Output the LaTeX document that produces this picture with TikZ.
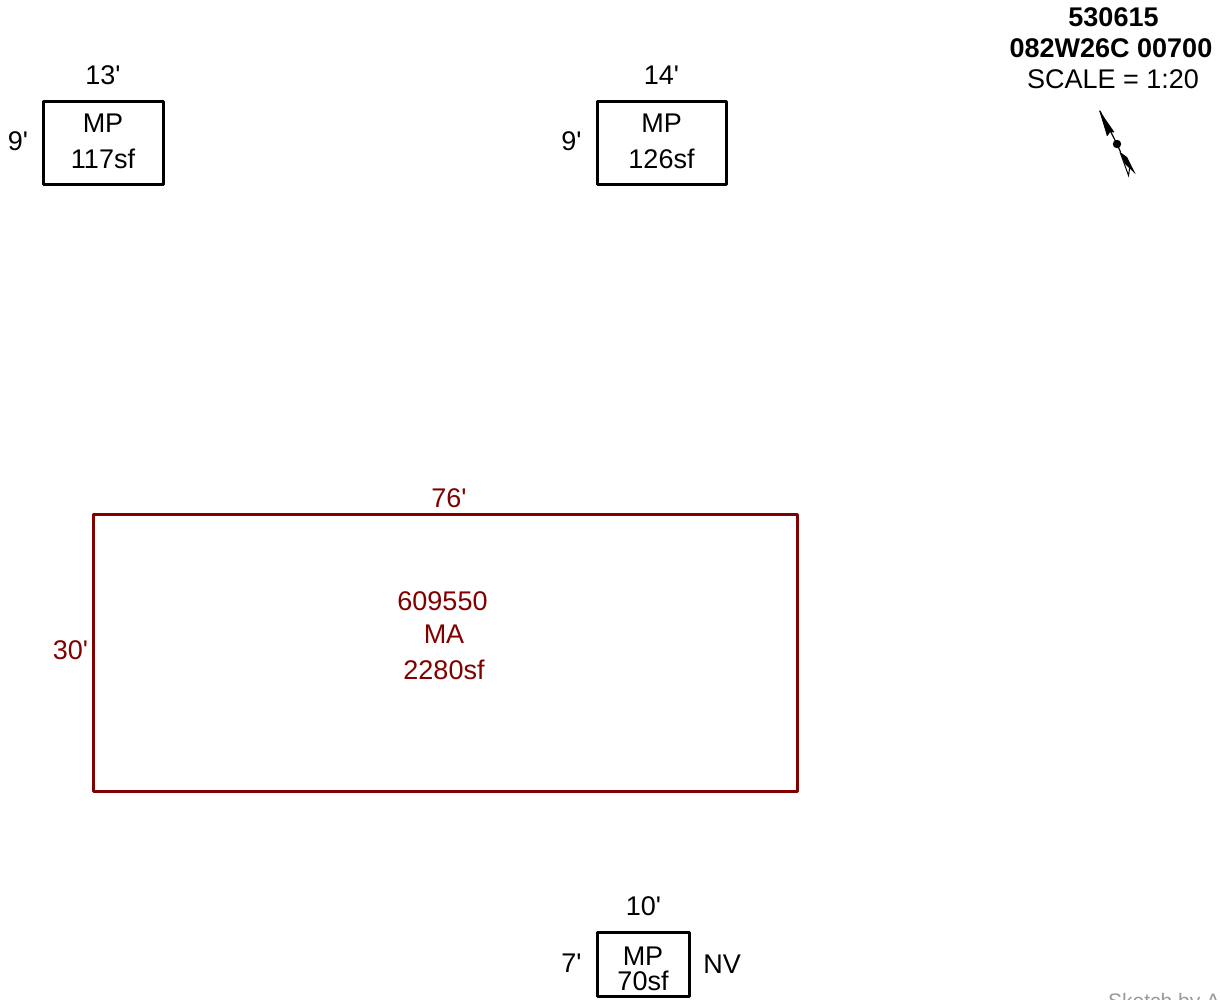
\documentclass[tikz,border=0pt]{standalone}
\usepackage{fontspec}
\setmainfont[Ligatures=TeXOff]{Liberation Sans}
\definecolor{maroonc}{HTML}{800000}
\definecolor{greyc}{HTML}{999999}
\tikzset{
  lbl/.style={anchor=base,inner sep=0pt,font=\fontsize{27}{27}\selectfont},
  blbl/.style={lbl,font=\fontsize{27}{27}\selectfont\bfseries},
  redlbl/.style={lbl,text=maroonc},
  room/.style={draw=black,line width=3pt,line join=round},
  redroom/.style={draw=maroonc,line width=3pt,line join=round}
}
\begin{document}
\begin{tikzpicture}[x=1pt,y=-1pt]
\useasboundingbox (0,0) rectangle (1220,999);
\clip (0,0) rectangle (1220,999);
\draw[room] (43,101) rectangle (163.5,184.5);
\draw[room] (597,101) rectangle (726.5,184.5);
\draw[redroom] (93,514) rectangle (797.5,791.5);
\draw[room] (597,932) rectangle (689.5,996.5);
\node[lbl] (a1) at (103,84) {13'};
\node[lbl] (a2) at (18,150) {9'};
\node[lbl] (a3) at (103,132) {MP};
\node[lbl] (a4) at (103,168) {117sf};
\node[lbl] (b1) at (661.5,84) {14'};
\node[lbl] (b2) at (571.5,150) {9'};
\node[lbl] (b3) at (661.5,132) {MP};
\node[lbl] (b4) at (661.5,168) {126sf};
\node[blbl] (t1) at (1113.5,26) {530615};
\node[blbl] (t2) at (1111,57) {082W26C 00700};
\node[lbl] (t3) at (1113,88) {SCALE = 1:20};
\node[redlbl] (c1) at (449,507) {76'};
\node[redlbl] (c2) at (70.5,659) {30'};
\node[redlbl] (c3) at (442.5,610) {609550};
\node[redlbl] (c4) at (444,643) {MA};
\node[redlbl] (c5) at (444,679) {2280sf};
\node[lbl] (d1) at (643.5,915) {10'};
\node[lbl] (d2) at (571.5,972.5) {7'};
\node[lbl] (d3) at (643,965) {MP};
\node[lbl] (d4) at (643,990) {70sf};
\node[lbl] (d5) at (722,973) {NV};
\node[anchor=base west,inner sep=0pt,text=greyc,font=\fontsize{21}{21}\selectfont] (s) at (1108,1008.5) {Sketch by A};
% north arrow
\fill (1099,110) -- (1114,131.5) -- (1111,131) -- (1107,136) -- cycle;
\draw[line width=1.2pt] (1107,135.5) -- (1110,131) -- (1114,132);
\draw[line width=1.2pt] (1100,111) -- (1117,144);
\fill (1117,144) circle (4.2);
\draw[line width=1.2pt] (1117,144) -- (1120.5,152);
\fill (1120,152) -- (1127,157) -- (1135.5,174) -- (1125,164) -- cycle;
\draw[line width=1pt] (1120,152) -- (1128.5,175.5) -- (1130,166);
\end{tikzpicture}
\end{document}
